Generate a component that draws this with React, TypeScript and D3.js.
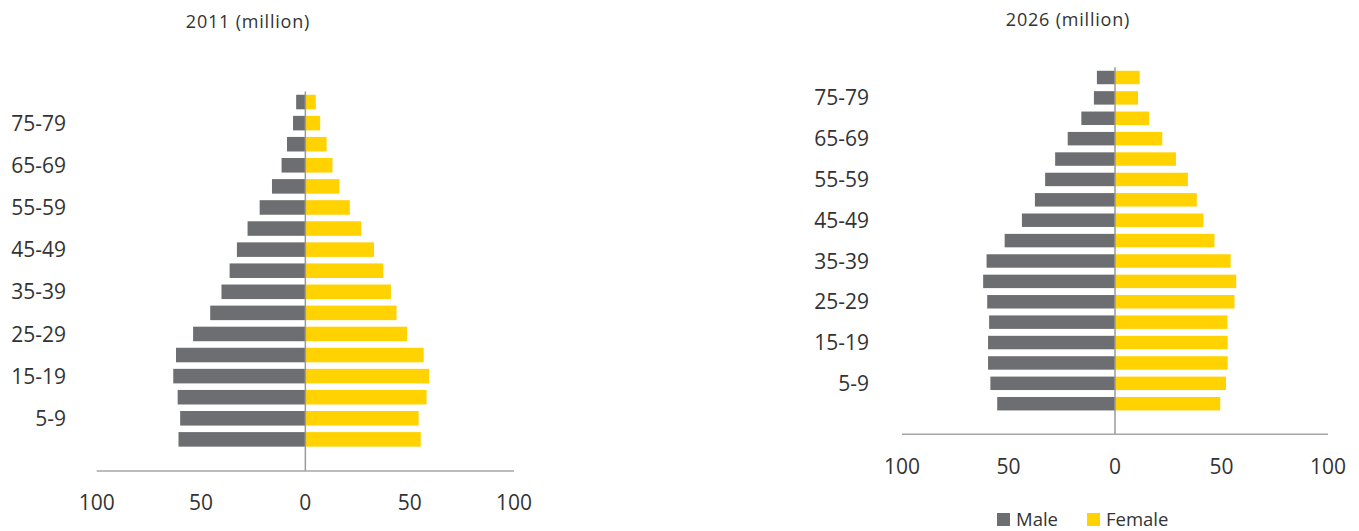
import React from 'react';
import * as d3 from 'd3';

// age groups, youngest first
const ageGroups = ['0-4', '5-9', '10-14', '15-19', '20-24', '25-29', '30-34', '35-39', '40-44',
  '45-49', '50-54', '55-59', '60-64', '65-69', '70-74', '75-79', '80+'];
const shownLabels = ['5-9', '15-19', '25-29', '35-39', '45-49', '55-59', '65-69', '75-79'];
const xTicks = [-100, -50, 0, 50, 100];

const male2011 = [60.8, 60.0, 61.2, 63.3, 62.0, 53.8, 45.6, 40.2, 36.3, 32.8, 27.7, 21.9, 16.0, 11.4, 8.8, 5.9, 4.4];
const female2011 = [55.3, 54.3, 58.1, 59.3, 56.7, 48.8, 43.7, 41.0, 37.4, 32.9, 26.8, 21.3, 16.3, 13.0, 10.2, 7.1, 5.0];

const male2026 = [55.3, 58.5, 59.6, 59.6, 59.1, 60.0, 61.9, 60.3, 51.8, 43.7, 37.6, 32.8, 28.1, 22.2, 15.8, 9.9, 8.5];
const female2026 = [49.4, 52.1, 52.9, 52.9, 52.8, 56.1, 56.9, 54.3, 46.7, 41.5, 38.4, 34.2, 28.6, 22.2, 16.0, 10.8, 11.6];

const MALE = '#6d6e71';
const FEMALE = '#ffd200';
const TEXT = '#333333';
const FONT = '"Open Sans", "DejaVu Sans", sans-serif';

type PyramidProps = {
  title: string;
  male: number[];
  female: number[];
  left: number;
  right: number;
  top: number;
  axisY: number;
  labelX: number;
  titleX: number;
  titleY: number;
  tickY: number;
  pad: number;
};

const Pyramid = ({ title, male, female, left, right, top, axisY, labelX, titleX, titleY, tickY, pad }: PyramidProps) => {
  const x = d3.scaleLinear().domain([-100, 100]).range([left, right]);
  // one empty slot is left between the last bar and the axis
  const step = (axisY - top) / (ageGroups.length + 1);
  const y = d3.scaleBand<string>()
    .domain([...ageGroups].reverse())
    .range([top, axisY - step])
    .paddingInner(pad)
    .paddingOuter(pad / 2);
  const x0 = x(0);

  return (
    <g fontFamily={FONT} fill={TEXT}>
      <text x={titleX} y={titleY} textAnchor="middle" fontSize={18} letterSpacing={0.8}>{title}</text>

      {ageGroups.map((g, i) => (
        <g key={g}>
          <rect x={x(-male[i])} y={y(g)} width={x0 - x(-male[i])} height={y.bandwidth()} fill={MALE} />
          <rect x={x0} y={y(g)} width={x(female[i]) - x0} height={y.bandwidth()} fill={FEMALE} />
        </g>
      ))}

      <line x1={x0} x2={x0} y1={top} y2={axisY} stroke="#9a9a9a" strokeWidth={1.5} />
      <line x1={left} x2={right} y1={axisY} y2={axisY} stroke="#a6a6a6" strokeWidth={1.5} />

      {shownLabels.map(g => (
        <text key={g} x={labelX} y={(y(g) ?? 0) + y.bandwidth() / 2} dy="0.36em" textAnchor="end" fontSize={21}>{g}</text>
      ))}

      {xTicks.map(t => (
        <text key={t} x={x(t)} y={tickY} textAnchor="middle" fontSize={21}>{Math.abs(t)}</text>
      ))}
    </g>
  );
};

const App = () => (
  <svg width={1359} height={531} style={{ position: 'absolute', left: 0, top: 0, background: '#fff' }}>
    <Pyramid title="2011 (million)" male={male2011} female={female2011}
      left={96.7} right={514} top={91.5} axisY={471} labelX={66} titleX={248} titleY={28} tickY={510} pad={0.31} />
    <Pyramid title="2026 (million)" male={male2026} female={female2026}
      left={902} right={1328} top={67.3} axisY={434.3} labelX={869} titleX={1068} titleY={26} tickY={474} pad={0.34} />

    <g fontFamily={FONT} fill={TEXT} fontSize={18.5}>
      <rect x={997} y={513} width={13} height={13} fill={MALE} />
      <text x={1016} y={526}>Male</text>
      <rect x={1087} y={513} width={13} height={13} fill={FEMALE} />
      <text x={1106} y={526}>Female</text>
    </g>
  </svg>
);

export default App;
